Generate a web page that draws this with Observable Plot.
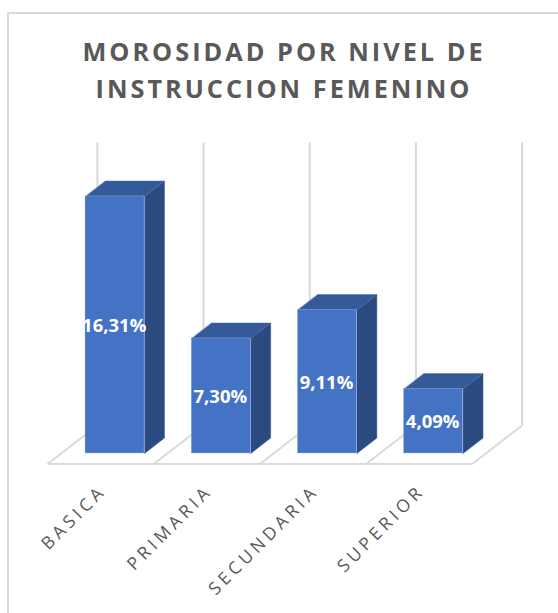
<!DOCTYPE html>
<html><head><meta charset="utf-8">
<script src="https://cdn.jsdelivr.net/npm/d3@7"></script>
<script src="https://cdn.jsdelivr.net/npm/@observablehq/plot@0.6"></script>
<style>
html,body{margin:0;padding:0;background:#fff}
#frame{position:absolute;left:7px;top:12px;width:551px;height:601px;border-left:2px solid #d9d9d9;border-top:2px solid #d9d9d9;box-sizing:border-box}
#title{position:absolute;left:0;top:33px;width:568px;text-align:center;font:700 25.3px/37px "Open Sans",sans-serif;letter-spacing:3px;color:#595959}
#chart{position:absolute;left:0;top:125px}
.catlabel text{letter-spacing:4px}
</style></head><body>
<div id="frame"></div>
<div id="title">MOROSIDAD POR NIVEL DE<br>INSTRUCCION FEMENINO</div>
<div id="chart"></div>
<script>
const categories = ["BASICA","PRIMARIA","SECUNDARIA","SUPERIOR"];
const values = [16.31,7.30,9.11,4.09];
const labels = ["16,31%","7,30%","9,11%","4,09%"];
const wallTicks = [0,1,2,3,4];

// Oblique projection parameters, in data units
const barLeft=0.358, barWidth=0.556, barDepthX=0.188, barDepthY=0.98;
const floorFront=-0.67, floorDepthX=0.47, floorBack=1.78, wallTop=19.73;

const rows = categories.map((c,i)=>({c,i,v:values[i],label:labels[i],
  l:i+barLeft, r:i+barLeft+barWidth}));
const poly = (id,pts)=>pts.map(([x,y])=>({id,x,y}));
const sides = rows.flatMap(d=>poly(d.c,[[d.r,0],[d.r+barDepthX,barDepthY],[d.r+barDepthX,d.v+barDepthY],[d.r,d.v]]));
const tops = rows.flatMap(d=>poly(d.c,[[d.l,d.v],[d.r,d.v],[d.r+barDepthX,d.v+barDepthY],[d.l+barDepthX,d.v+barDepthY]]));

const grid="#d9d9d9";
const plot = Plot.plot({
  width:558,height:488,margin:0,
  x:{axis:null,type:"linear",domain:[0,4],range:[47,471.7]},
  y:{axis:null,type:"linear",domain:[0,20],range:[328,12.8]},
  marks:[
    Plot.link(wallTicks,{x1:d=>d+floorDepthX,x2:d=>d+floorDepthX,y1:floorBack,y2:wallTop,stroke:grid,strokeWidth:2}),
    Plot.link(wallTicks,{x1:d=>d,x2:d=>d+floorDepthX,y1:floorFront,y2:floorBack,stroke:grid,strokeWidth:2}),
    Plot.link([0],{x1:0,x2:4,y1:floorFront,y2:floorFront,stroke:grid,strokeWidth:2}),
    Plot.line(sides,{x:"x",y:"y",z:"id",fill:"#2a4a80",stroke:"#3a5a92",strokeWidth:0.5,curve:"linear-closed"}),
    Plot.line(tops,{x:"x",y:"y",z:"id",fill:"#345a9a",stroke:"#4a6ca8",strokeWidth:0.5,curve:"linear-closed"}),
    Plot.rect(rows,{x1:"l",x2:"r",y1:0,y2:"v",fill:"#4472c4",stroke:"#a9bde3",strokeWidth:0.4}),
    Plot.text(rows,{x:d=>d.i+barLeft+barWidth/2-0.008,y:d=>d.v/2-0.08,text:"label",fill:"#fff",fontWeight:700,fontSize:18.5,fontFamily:"Open Sans"}),
    Plot.text(rows,{className:"catlabel",x:d=>d.i+0.525,y:-2.2,text:"c",rotate:-45,textAnchor:"end",fill:"#595959",fontSize:17.5,fontFamily:"Open Sans"})
  ]
});
document.getElementById("chart").appendChild(plot);
</script>
</body></html>
